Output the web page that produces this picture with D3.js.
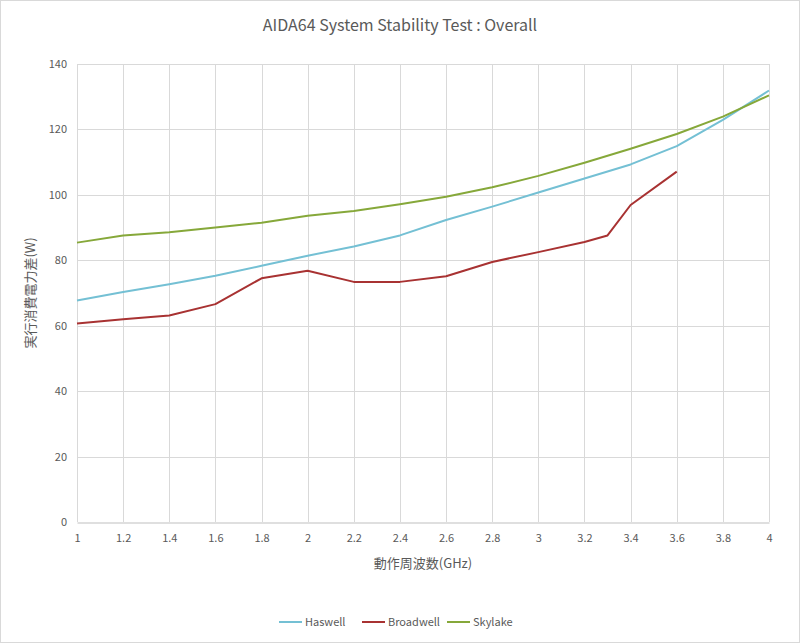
<!DOCTYPE html>
<html>
<head>
<meta charset="utf-8">
<script src="https://cdn.jsdelivr.net/npm/d3@7"></script>
<style>
  body { margin: 0; background: #fff; }
  text { font-family: "Noto Sans CJK JP", "Open Sans", sans-serif; fill: #595959; }
</style>
</head>
<body>
<svg id="chart" width="800" height="643"></svg>
<script>
// data
var freqs = [1, 1.2, 1.4, 1.6, 1.8, 2, 2.2, 2.4, 2.6, 2.8, 3, 3.2, 3.4, 3.6, 3.8, 4];
var haswell = [67.7, 70.3, 72.7, 75.3, 78.3, 81.4, 84.2, 87.6, 92.3, 96.4, 100.7, 105.0, 109.3, 114.9, 122.9, 131.9];
var skylake = [85.4, 87.6, 88.6, 90.0, 91.5, 93.6, 95.1, 97.1, 99.4, 102.3, 105.8, 109.8, 114.1, 118.6, 123.9, 130.4];
var broadwellFreqs = [1, 1.2, 1.4, 1.6, 1.8, 2, 2.2, 2.4, 2.6, 2.8, 3, 3.2, 3.3, 3.4, 3.6];
var broadwell = [60.7, 62.0, 63.1, 66.6, 74.5, 76.8, 73.4, 73.4, 75.1, 79.5, 82.5, 85.6, 87.6, 96.9, 107.1];
var xTicks = [1, 1.2, 1.4, 1.6, 1.8, 2, 2.2, 2.4, 2.6, 2.8, 3, 3.2, 3.4, 3.6, 3.8, 4];
var yTicks = [0, 20, 40, 60, 80, 100, 120, 140];

var series = [
  {name: 'Haswell', x: freqs, y: haswell, color: '#74c0d4'},
  {name: 'Broadwell', x: broadwellFreqs, y: broadwell, color: '#a83232'},
  {name: 'Skylake', x: freqs, y: skylake, color: '#86a83a'}
];

var W = 800, H = 643;
var PLOT_LEFT = 77, PLOT_RIGHT = 769, PLOT_TOP = 64, PLOT_BOTTOM = 522;

var svg = d3.select('#chart');

svg.append('rect')
  .attr('x', 0.5).attr('y', 0.5)
  .attr('width', W - 1).attr('height', H - 1)
  .attr('fill', '#fff')
  .attr('stroke', '#d9d9d9');

var x = d3.scaleLinear().domain([1, 4]).range([PLOT_LEFT, PLOT_RIGHT]);
var y = d3.scaleLinear().domain([0, 140]).range([PLOT_BOTTOM, PLOT_TOP]);

// grid
var grid = svg.append('g');
grid.selectAll('.hgrid')
  .data(yTicks.filter(function(d){ return d > 0; }))
  .enter().append('line')
  .attr('x1', PLOT_LEFT).attr('x2', PLOT_RIGHT)
  .attr('y1', function(d){ return Math.round(y(d)) + 0.5; })
  .attr('y2', function(d){ return Math.round(y(d)) + 0.5; })
  .attr('stroke', '#d9d9d9');
grid.selectAll('.vgrid')
  .data(xTicks)
  .enter().append('line')
  .attr('y1', PLOT_TOP).attr('y2', PLOT_BOTTOM)
  .attr('x1', function(d){ return Math.round(x(d)) + 0.5; })
  .attr('x2', function(d){ return Math.round(x(d)) + 0.5; })
  .attr('stroke', '#d9d9d9');

// axes
var xAxis = svg.append('g')
  .attr('transform', 'translate(0,' + (PLOT_BOTTOM + 0.5) + ')')
  .call(d3.axisBottom(x).tickValues(xTicks).tickSize(0).tickPadding(12)
    .tickFormat(function(d){ return String(+d.toFixed(1)); }));
xAxis.select('.domain').attr('stroke', '#bfbfbf');
xAxis.selectAll('text').attr('font-size', '11px').style('fill', '#595959');

var yAxis = svg.append('g')
  .attr('transform', 'translate(' + PLOT_LEFT + ',0)')
  .call(d3.axisLeft(y).tickValues(yTicks).tickSize(0).tickPadding(10));
yAxis.select('.domain').remove();
yAxis.selectAll('text').attr('font-size', '11px').style('fill', '#595959');

// lines
var line = d3.line()
  .x(function(d){ return x(d[0]); })
  .y(function(d){ return y(d[1]); });

series.forEach(function(s){
  svg.append('path')
    .datum(d3.zip(s.x, s.y))
    .attr('d', line)
    .attr('fill', 'none')
    .attr('stroke', s.color)
    .attr('stroke-width', 2)
    .attr('stroke-linejoin', 'round');
});

// titles
svg.append('text')
  .attr('x', 400).attr('y', 31)
  .attr('text-anchor', 'middle')
  .attr('font-size', '16px')
  .text('AIDA64 System Stability Test : Overall');

svg.append('text')
  .attr('x', (PLOT_LEFT + PLOT_RIGHT) / 2).attr('y', 568)
  .attr('text-anchor', 'middle')
  .attr('font-size', '13px')
  .text('動作周波数(GHz)');

svg.append('text')
  .attr('transform', 'translate(35,' + ((PLOT_TOP + PLOT_BOTTOM) / 2) + ') rotate(-90)')
  .attr('text-anchor', 'middle')
  .attr('font-size', '13px')
  .text('実行消費電力差(W)');

// legend
var legendX = [279, 362, 447];
var legend = svg.selectAll('.legend')
  .data(series)
  .enter().append('g')
  .attr('transform', function(d, i){ return 'translate(' + legendX[i] + ',622)'; });
legend.append('line')
  .attr('x1', 0).attr('x2', 23)
  .attr('stroke', function(d){ return d.color; })
  .attr('stroke-width', 2);
legend.append('text')
  .attr('x', 26).attr('y', 4)
  .attr('font-size', '11px')
  .text(function(d){ return d.name; });
</script>
</body>
</html>
